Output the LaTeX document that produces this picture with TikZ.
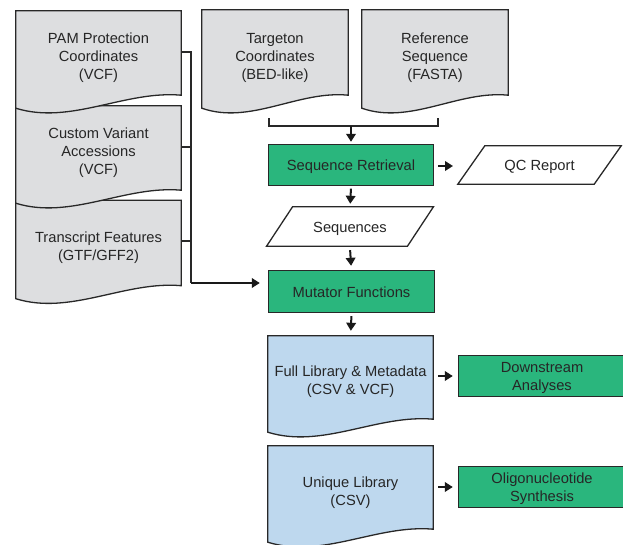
\documentclass[tikz,border=0pt]{standalone}
\usepackage{fontspec}
\setmainfont{Liberation Sans}
\usetikzlibrary{calc,arrows.meta,backgrounds}
\definecolor{docgray}{RGB}{221,222,224}
\definecolor{boxgreen}{RGB}{42,182,125}
\definecolor{docblue}{RGB}{190,216,238}
\definecolor{edgecol}{RGB}{40,40,40}
\newcommand\mydoc[3]{%
  \path[draw=edgecol, line width=1.3pt, fill=#3]
    ($(#1.north west)+(0,#2)$) -- ($(#1.north east)+(0,#2)$) -- ($(#1.south east)+(0,#2)$)
    .. controls ($(#1.south west)!0.66!(#1.south east)+(0,#2-5)$) and ($(#1.south west)!0.33!(#1.south east)+(0,#2+30)$) .. ($(#1.south west)+(0,#2+13)$) -- cycle;}
\newcommand\mypara[3]{%
  \path[draw=edgecol, line width=1.3pt, fill=white]
    ($(#1.south west)+(-#2,#3)$) -- ($(#1.south east)+(-#2,#3)$) -- ($(#1.north east)+(#2,#3)$) -- ($(#1.north west)+(#2,#3)$) -- cycle;}
\newcommand\mybox[2]{%
  \path[draw=edgecol, line width=1.3pt, fill=boxgreen]
    ($(#1.north west)+(0,#2)$) rectangle ($(#1.south east)+(0,#2)$);}
\tikzset{
  txt/.style={font=\fontsize{14.7}{18}\selectfont, text=black!85},
  docnode/.style={txt, draw=none, align=center, inner sep=0pt},
  arr/.style={draw=black!90, line width=2pt, -{Triangle[length=8pt,width=9.5pt]}},
  conn/.style={draw=edgecol, line width=1.3pt},
}
\begin{document}
\begin{tikzpicture}[x=1pt,y=-1pt]
\useasboundingbox (0,0) rectangle (623,544);

% documents (text nodes)
\node[docnode, minimum width=165, minimum height=84] (pam) at (98.5,58) {PAM Protection\\Coordinates\\(VCF)};
\node[docnode, minimum width=165, minimum height=84] (custom) at (98.5,153) {Custom Variant\\Accessions\\(VCF)};
\node[docnode, minimum width=165, minimum height=85] (transcript) at (98.5,248) {Transcript Features\\(GTF/GFF2)};
\node[docnode, minimum width=146, minimum height=85] (targeton) at (275,58) {Targeton\\Coordinates\\(BED-like)};
\node[docnode, minimum width=146, minimum height=85] (reference) at (435,58) {Reference\\Sequence\\(FASTA)};
\node[docnode, minimum width=165, minimum height=83] (full) at (350.5,382) {Full Library \& Metadata\\(CSV \& VCF)};
\node[docnode, minimum width=165, minimum height=83] (unique) at (350.5,492.5) {Unique Library\\(CSV)};

% process boxes
\node[docnode, minimum width=164, minimum height=40] (seqret) at (351,167) {Sequence Retrieval};
\node[docnode, minimum width=165, minimum height=41] (mutator) at (351.5,292.5) {Mutator Functions};
\node[docnode, minimum width=166, minimum height=40] (downstream) at (542,378) {Downstream\\Analyses};
\node[docnode, minimum width=166, minimum height=40] (oligo) at (542,489) {Oligonucleotide\\Synthesis};

% data (parallelograms)
\node[docnode, minimum width=136, minimum height=38] (qc) at (539.5,167) {QC Report};
\node[docnode, minimum width=140.5, minimum height=39] (seqs) at (350,228.5) {Sequences};

\begin{pgfonlayer}{background}
  \mydoc{transcript}{-5}{docgray}
  \mydoc{custom}{-5}{docgray}
  \mydoc{pam}{-5}{docgray}
  \mydoc{targeton}{-5.5}{docgray}
  \mydoc{reference}{-5.5}{docgray}
  \mydoc{full}{-4.5}{docblue}
  \mydoc{unique}{-5}{docblue}
  \mybox{seqret}{-2}
  \mybox{mutator}{-1}
  \mybox{downstream}{-2}
  \mybox{oligo}{-2}
  \mypara{qc}{13.5}{-2}
  \mypara{seqs}{13}{-2}
\end{pgfonlayer}

% top bracket
\coordinate (brL) at (269,118);
\coordinate (brR) at (438,118);
\coordinate (brM) at (351,126);
\draw[conn] (brL) -- (brL |- brM) -- (brR |- brM) -- (brR);
\draw[arr, shorten >=5pt] (brM) -- (seqret.north);

% main flow
\coordinate (qcin) at (453,166);
\draw[arr, shorten <=5pt] (seqret.east |- qcin) -- (qcin);
\draw[arr, shorten <=1.5pt, shorten >=5pt] (seqret.south) -- (seqs.north);
\draw[arr, shorten <=2pt, shorten >=6pt] (seqs.south) -- (mutator.north);
\draw[arr, shorten <=3pt, shorten >=9.5pt] (mutator.south) -- (full.north);
\draw[arr, shorten <=5pt, shorten >=6pt] ([yshift=2pt]downstream.west -| full.east) -- ([yshift=2pt]downstream.west);
\draw[arr, shorten <=5pt, shorten >=6pt] ([yshift=2pt]oligo.west -| unique.east) -- ([yshift=2pt]oligo.west);

% left bracket
\coordinate (jn) at (191,283);
\draw[conn] ([yshift=6pt]pam.east) -| (jn);
\draw[conn] ([yshift=6pt]custom.east) -- ([yshift=6pt]custom.east -| jn);
\draw[conn] ([yshift=7pt]transcript.east) -- ([yshift=7pt]transcript.east -| jn);
\draw[arr, shorten >=9pt] (jn) -- (jn -| mutator.west);
\end{tikzpicture}
\end{document}
